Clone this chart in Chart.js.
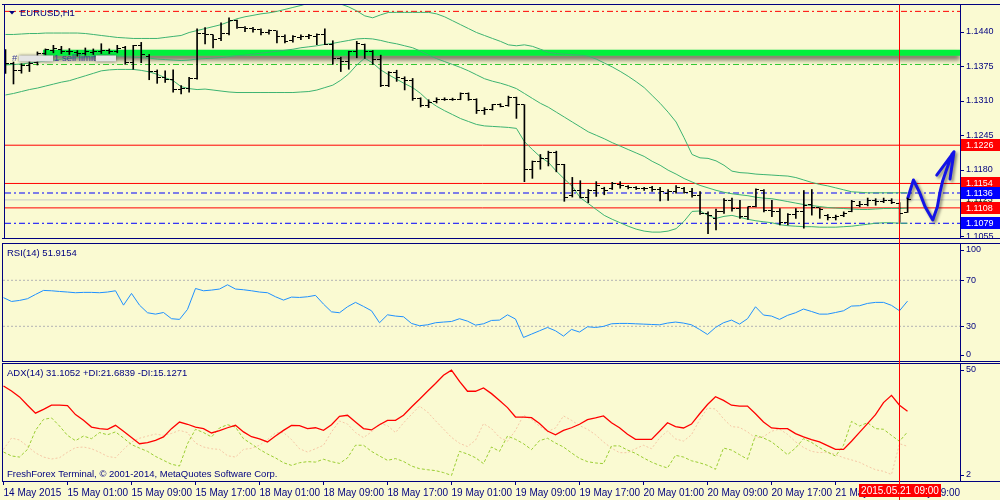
<!DOCTYPE html>
<html>
<head>
<meta charset="utf-8">
<script src="https://cdn.jsdelivr.net/npm/chart.js@4.4.1/dist/chart.umd.min.js"></script>
<style>
html,body{margin:0;padding:0;width:1000px;height:500px;overflow:hidden;background:#FAFAD2;}
canvas{position:absolute;left:0;display:block;}
#pricePanel{top:0;}
#rsiPanel{top:243px;}
#adxPanel{top:363px;}
</style>
</head>
<body>
<canvas id="pricePanel" width="1000" height="243" style="width:1000px;height:243px"></canvas>
<canvas id="rsiPanel" width="1000" height="120" style="width:1000px;height:120px"></canvas>
<canvas id="adxPanel" width="1000" height="137" style="width:1000px;height:137px"></canvas>
<script>
// ---------------- DATA ----------------
const symbolTitle = 'EURUSD,H1';
const rsiTitle = 'RSI(14) 51.9154';
const adxTitle = 'ADX(14) 31.1052 +DI:21.6839 -DI:15.1271';
const copyrightText = 'FreshForex Terminal, \u00A9 2001-2014, MetaQuotes Software Corp.';
const orderLabel = '1 sell limit';

const xTickIndex = [0,8,16,24,32,40,48,56,64,72,80,88,96,104,112];
const xTickLabels = ['14 May 2015','15 May 01:00','15 May 09:00','15 May 17:00','18 May 01:00','18 May 09:00','18 May 17:00','19 May 01:00','19 May 09:00','19 May 17:00','20 May 01:00','20 May 09:00','20 May 17:00','21 May 01:00','21 May 09:00'];
const crosshairIndex = 112;
const crosshairLabel = '2015.05.21 09:00';

const priceTicks = [1.1440,1.1375,1.1310,1.1245,1.1180,1.1055];
const redLevels = [1.1226,1.1154,1.1108];
const blueLevels = [1.1136,1.1079];
const bidPrice = 1.1123;
const stopLevel = 1.1478;
const sellLimitLevel = 1.1378;
const zoneLevel = 1.1400;
const zoneStartIndex = 4.7;

const open = [1.13814,1.13795,1.13659,1.13770,1.13814,1.13980,1.14048,1.14060,1.14030,1.14011,
1.13986,1.14011,1.14030,1.14042,1.14030,1.14091,1.13814,1.14134,1.13937,1.13647,
1.13536,1.13493,1.13301,1.13320,1.13524,1.14357,1.14338,1.14264,1.14369,1.14603,
1.14474,1.14461,1.14431,1.14387,1.14412,1.14307,1.14227,1.14289,1.14307,1.14307,
1.14350,1.14165,1.13894,1.13832,1.14030,1.14165,1.14030,1.13875,1.13382,1.13628,
1.13524,1.13487,1.13135,1.13011,1.13085,1.13116,1.13129,1.13129,1.13227,1.13116,
1.12919,1.12931,1.13030,1.13005,1.13153,1.13024,1.11808,1.11944,1.12006,1.12129,
1.11901,1.11315,1.11407,1.11284,1.11407,1.11438,1.11450,1.11512,1.11487,1.11469,
1.11450,1.11457,1.11426,1.11346,1.11389,1.11438,1.11389,1.11315,1.10975,1.10883,
1.11006,1.11222,1.11068,1.10914,1.11099,1.11407,1.11037,1.11006,1.10809,1.10957,
1.11006,1.11142,1.11080,1.10944,1.10895,1.10932,1.11006,1.11130,1.11142,1.11222,
1.11204,1.11222,1.11160,1.10994];
const high = [1.14060,1.13826,1.13795,1.13844,1.14017,1.14073,1.14141,1.14122,1.14079,1.14042,
1.14091,1.14073,1.14171,1.14073,1.14141,1.14122,1.14141,1.14196,1.13968,1.13678,
1.13659,1.13678,1.13382,1.13536,1.14449,1.14474,1.14338,1.14566,1.14659,1.14616,
1.14492,1.14480,1.14449,1.14431,1.14412,1.14338,1.14326,1.14338,1.14350,1.14357,
1.14449,1.14227,1.13918,1.14030,1.14215,1.14165,1.14042,1.13956,1.13647,1.13672,
1.13548,1.13517,1.13153,1.13116,1.13153,1.13153,1.13147,1.13246,1.13246,1.13135,
1.12968,1.13030,1.13042,1.13184,1.13166,1.13024,1.11963,1.12086,1.12148,1.12148,
1.11901,1.11654,1.11592,1.11426,1.11574,1.11469,1.11561,1.11574,1.11500,1.11481,
1.11469,1.11487,1.11469,1.11426,1.11500,1.11469,1.11450,1.11389,1.11006,1.11056,
1.11253,1.11265,1.11222,1.11099,1.11438,1.11426,1.11222,1.11068,1.10975,1.11068,
1.11407,1.11426,1.11080,1.10957,1.10944,1.11006,1.11222,1.11204,1.11265,1.11253,
1.11265,1.11253,1.11179,1.11265];
const low = [1.13610,1.13413,1.13616,1.13647,1.13770,1.13956,1.13999,1.13986,1.13968,1.13937,
1.13956,1.13968,1.13986,1.13986,1.13999,1.13783,1.13690,1.13814,1.13493,1.13425,
1.13443,1.13258,1.13227,1.13258,1.13505,1.14165,1.14091,1.14227,1.14338,1.14461,
1.14400,1.14387,1.14338,1.14350,1.14184,1.14184,1.14202,1.14245,1.14264,1.14153,
1.14153,1.13783,1.13647,1.13690,1.13906,1.13894,1.13783,1.13363,1.13363,1.13462,
1.13301,1.13104,1.12981,1.12968,1.13055,1.13104,1.13104,1.13116,1.13104,1.12857,
1.12839,1.12919,1.12981,1.12993,1.12765,1.11574,1.11636,1.11808,1.11870,1.11759,
1.11204,1.11284,1.11265,1.11179,1.11296,1.11327,1.11426,1.11450,1.11438,1.11426,
1.11407,1.11389,1.11210,1.11222,1.11358,1.11358,1.11284,1.10957,1.10593,1.10667,
1.10975,1.11019,1.10883,1.10864,1.11099,1.11006,1.10914,1.10759,1.10759,1.10883,
1.10698,1.10944,1.10883,1.10852,1.10852,1.10914,1.11006,1.11099,1.11117,1.11130,
1.11179,1.11160,1.10809,1.10994];
const close = [1.13795,1.13659,1.13770,1.13801,1.13980,1.14060,1.14073,1.14030,1.14017,1.13986,
1.14017,1.14030,1.14042,1.14030,1.14073,1.13814,1.14141,1.13968,1.13647,1.13536,
1.13493,1.13301,1.13320,1.13524,1.14357,1.14338,1.14245,1.14369,1.14616,1.14474,
1.14449,1.14431,1.14387,1.14412,1.14307,1.14215,1.14307,1.14307,1.14320,1.14350,
1.14165,1.13894,1.13832,1.14030,1.14184,1.14030,1.13875,1.13382,1.13628,1.13536,
1.13487,1.13135,1.13011,1.13073,1.13116,1.13129,1.13129,1.13227,1.13116,1.12919,
1.12931,1.13030,1.12993,1.13166,1.13024,1.11808,1.11944,1.12006,1.12129,1.11901,
1.11284,1.11407,1.11284,1.11407,1.11500,1.11407,1.11531,1.11500,1.11469,1.11450,
1.11438,1.11426,1.11389,1.11389,1.11469,1.11376,1.11315,1.10975,1.10944,1.11006,
1.11222,1.11068,1.10914,1.11099,1.11426,1.11037,1.11006,1.10809,1.10957,1.11006,
1.11130,1.11080,1.11056,1.10895,1.10914,1.10975,1.11191,1.11142,1.11222,1.11204,
1.11222,1.11179,1.10975,1.11235];

const bbUpper = [1.14345,1.14345,1.14354,1.14363,1.14363,1.14372,1.14372,1.14372,1.14372,1.14372,
1.14363,1.14345,1.14326,1.14308,1.14289,1.14280,1.14270,1.14270,1.14270,1.14270,
1.14289,1.14308,1.14326,1.14382,1.14419,1.14456,1.14493,1.14530,1.14585,1.14641,
1.14678,1.14705,1.14733,1.14752,1.14780,1.14817,1.14854,1.14891,1.14937,1.14955,
1.14974,1.14955,1.14918,1.14863,1.14789,1.14696,1.14659,1.14715,1.14761,1.14761,
1.14761,1.14761,1.14761,1.14761,1.14733,1.14678,1.14604,1.14530,1.14456,1.14382,
1.14326,1.14270,1.14215,1.14150,1.14132,1.14150,1.14122,1.14067,1.14011,1.13984,
1.13974,1.13965,1.13956,1.13937,1.13882,1.13808,1.13734,1.13650,1.13558,1.13456,
1.13345,1.13197,1.13049,1.12882,1.12697,1.12401,1.12086,1.12022,1.12012,1.11966,
1.11883,1.11772,1.11744,1.11735,1.11716,1.11707,1.11698,1.11688,1.11679,1.11651,
1.11605,1.11559,1.11522,1.11494,1.11457,1.11420,1.11383,1.11374,1.11364,1.11364,
1.11364,1.11364,1.11364,1.11364];
const bbMiddle = [1.13771,1.13780,1.13789,1.13808,1.13826,1.13845,1.13863,1.13882,1.13900,1.13910,
1.13919,1.13928,1.13937,1.13937,1.13937,1.13928,1.13919,1.13910,1.13900,1.13882,
1.13872,1.13863,1.13854,1.13863,1.13882,1.13891,1.13900,1.13910,1.13928,1.13947,
1.13956,1.13974,1.13993,1.14011,1.14030,1.14048,1.14067,1.14095,1.14113,1.14132,
1.14159,1.14178,1.14206,1.14233,1.14261,1.14270,1.14261,1.14233,1.14196,1.14169,
1.14132,1.14095,1.14030,1.13956,1.13891,1.13835,1.13780,1.13724,1.13660,1.13586,
1.13512,1.13465,1.13428,1.13382,1.13326,1.13234,1.13141,1.13049,1.12975,1.12882,
1.12790,1.12697,1.12605,1.12512,1.12447,1.12382,1.12308,1.12244,1.12179,1.12114,
1.12049,1.11957,1.11883,1.11790,1.11716,1.11633,1.11568,1.11503,1.11457,1.11411,
1.11374,1.11346,1.11327,1.11309,1.11281,1.11263,1.11253,1.11226,1.11198,1.11170,
1.11142,1.11124,1.11105,1.11087,1.11077,1.11068,1.11059,1.11050,1.11050,1.11059,
1.11068,1.11068,1.11068,1.11077];
const bbLower = [1.13206,1.13234,1.13271,1.13308,1.13336,1.13373,1.13410,1.13447,1.13475,1.13521,
1.13567,1.13613,1.13660,1.13678,1.13687,1.13687,1.13687,1.13669,1.13641,1.13595,
1.13530,1.13475,1.13363,1.13326,1.13308,1.13317,1.13299,1.13280,1.13262,1.13252,
1.13252,1.13252,1.13252,1.13252,1.13252,1.13252,1.13252,1.13262,1.13271,1.13299,
1.13345,1.13391,1.13484,1.13604,1.13771,1.13900,1.13808,1.13678,1.13586,1.13502,
1.13419,1.13345,1.13234,1.13095,1.12993,1.12910,1.12836,1.12762,1.12706,1.12651,
1.12623,1.12614,1.12605,1.12595,1.12577,1.12327,1.12179,1.12040,1.11938,1.11772,
1.11624,1.11485,1.11272,1.11161,1.11050,1.10939,1.10865,1.10800,1.10735,1.10680,
1.10643,1.10624,1.10624,1.10643,1.10689,1.10828,1.11013,1.11022,1.10939,1.10883,
1.10920,1.10939,1.10902,1.10865,1.10837,1.10818,1.10800,1.10763,1.10744,1.10735,
1.10726,1.10726,1.10717,1.10717,1.10717,1.10726,1.10735,1.10754,1.10772,1.10791,
1.10800,1.10800,1.10791,1.10791];

const arrowX = [113.03,113.73,114.48,115.19,116.15,116.73,117.06,117.4,118.53,118.81,116.65,118.81,118.31];
const arrowY = [1.11266,1.11605,1.11377,1.11100,1.10852,1.11100,1.11377,1.11592,1.12086,1.12136,1.11698,1.12136,1.11623];

const rsi = [54.9,51.6,52.5,54,57.7,61.2,60.9,60.3,59.8,59.2,
59.5,59.5,59.2,59.8,60.9,48.4,58.6,48.4,41.8,40.6,
42,36.6,36,44.7,62.9,60.9,61.5,62.4,66.1,62.4,
61.8,60.9,59.8,59.2,55.7,52.8,55.4,55.1,55.7,56.9,
49.3,42.6,41.8,47,50.8,47.3,43.5,33.1,40,38.9,
38.3,32.5,30.5,31.3,33.1,33.7,34.2,36.6,34.5,31,
32.2,35.1,35.4,40,36.3,20.3,23.2,26.1,29,26.1,
21.5,27.3,25,29.6,29,29.9,32.2,32.5,32.5,32.2,
31.9,31.6,31.3,32.8,33.7,32.8,31.3,27.3,22.9,29,
33.1,35.4,31.9,36.6,47,39.8,38.9,36,39.5,41.8,
45,42.9,40.6,40.6,42,43.5,47.6,47.9,49.9,50.8,
50.8,48.2,43.5,51.9];
const rsiTicks = [100,70,30,0];
const rsiLevels = [70,30];

const adx = [42.7,40.4,37.7,33.9,30.3,32.0,33.9,33.9,33.7,29.6,
27.0,23.9,23.2,22.9,24.7,22.0,19.1,16.3,16.8,17.8,
19.4,23.2,26.2,25.2,23.9,23.2,21.2,22.3,23.6,24.7,
21.7,19.5,18.5,17.1,19.8,22.4,24.7,24.6,23.2,23.6,
22.4,25.0,28.8,29.3,26.2,23.2,22.6,25.0,27.0,27.0,
29.3,33.1,36.6,40.3,43.8,47.6,49.9,44.8,40.3,40.3,
41.8,39.2,36.1,32.8,28.5,28.5,28.2,25.5,22.1,20.4,
22.4,23.6,25.2,27.3,28.1,29.0,25.9,23.6,20.6,18.3,
18.3,18.3,22.0,25.9,24.1,23.5,25.3,29.9,34.2,37.8,
36.1,33.9,33.5,33.5,30.0,26.2,23.5,23.2,23.2,20.9,
19.4,18.2,17.1,15.4,13.7,13.7,17.4,21.5,25.5,29.6,
35.1,38.4,33.9,31.1];
const plusDI = [12.5,10.7,10.2,13.7,22.4,27.4,28.1,24.4,20.1,17.7,
19.8,18.6,21.4,20.4,21.7,18.9,15.9,14.3,12.8,10.5,
8.7,6.9,6.1,16.3,22.9,21.4,19.4,23.5,25.0,23.9,
18.6,16.2,13.7,11.6,9.8,7.6,6.4,7.6,8.1,7.9,
9.2,8.1,7.3,9.8,15.6,15.6,12.8,10.7,8.7,9.5,
8.2,6.1,4.9,4.4,4.0,3.1,1.8,12.8,11.6,9.9,
7.2,14.8,12.8,19.8,18.3,16.3,13.6,17.7,18.8,16.6,
14.8,12.1,9.6,8.1,7.5,7.2,15.3,15.3,13.4,11.9,
9.8,7.9,6.4,5.2,11.0,10.2,8.5,7.6,6.4,4.6,
14.3,13.4,11.3,9.2,20.1,18.9,17.2,14.3,11.3,14.3,
18.6,16.9,14.5,12.4,10.7,15.6,26.5,24.4,25.9,23.2,
22.9,20.1,17.4,21.7];
const minusDI = [13.7,18.9,18.0,15.1,12.1,10.2,9.3,9.9,12.4,14.5,
14.8,14.0,12.4,10.5,9.9,13.7,17.1,18.8,19.8,20.7,
20.1,21.0,22.4,21.4,16.6,14.8,14.0,13.7,10.8,10.2,
13.7,14.2,15.6,18.2,21.2,21.4,18.2,14.0,12.5,14.0,
15.6,21.7,26.7,25.3,21.4,19.1,21.7,25.6,24.6,21.4,
25.8,29.7,33.5,30.8,26.8,23.0,19.2,16.5,15.0,17.9,
25.5,23.2,19.2,17.4,22.4,29.3,27.4,24.3,21.8,23.5,
29.0,27.0,24.6,22.9,20.4,17.1,14.3,12.2,12.2,14.0,
15.6,14.0,18.9,22.1,18.5,17.5,20.4,27.1,32.6,32.2,
27.7,24.1,23.8,21.7,18.9,19.5,22.0,23.0,20.6,17.2,
14.6,12.8,12.2,12.5,11.4,9.9,8.9,7.8,6.0,4.4,
3.7,2.2,16.3,15.1];
const adxTicks = [50,2];

// ---------------- STYLE / SCALES ----------------
const NAVY = '#000080';
const BB = '#3CB371';
const FONT = '"Liberation Sans", Arial, sans-serif';
Chart.defaults.font.family = FONT;
const X_MIN = -0.0625, X_MAX = 119.5625;
const PRICE_MIN = 1.10513, PRICE_MAX = 1.14900;
const RSI_MIN = -0.17, RSI_MAX = 101.57;
const ADX_MIN = -0.75, ADX_MAX = 52.75;

const pts = arr => arr.map((v, i) => ({x: i, y: v}));
const hline = (v, x0) => [{x: x0 === undefined ? X_MIN : x0, y: v}, {x: X_MAX, y: v}];

function tickCanvas(left) {
  const c = document.createElement('canvas');
  c.width = 7; c.height = 1;
  const g = c.getContext('2d');
  g.fillStyle = '#000';
  g.fillRect(left ? 0 : 4, 0, 3, 1);
  return c;
}

function baseOptions(yMin, yMax, padTop, padBottom) {
  return {
    responsive: false, animation: false, devicePixelRatio: 1, events: [],
    layout: {padding: {left: 3, right: 40, top: padTop, bottom: padBottom}},
    plugins: {legend: {display: false}, tooltip: {enabled: false}},
    scales: {
      x: {type: 'linear', min: X_MIN, max: X_MAX, offset: false, display: false},
      y: {type: 'linear', min: yMin, max: yMax, display: false}
    },
    elements: {point: {radius: 0}, line: {tension: 0, borderWidth: 1}}
  };
}

const styleHooks = {
  id: 'styleHooks',
  beforeDatasetDraw(chart, args) {
    const ds = chart.data.datasets[args.index];
    if (ds.shadow || ds.crisp) {
      const c = chart.ctx; c.save();
      if (ds.shadow) { c.shadowColor = ds.shadow.color; c.shadowBlur = ds.shadow.blur; c.shadowOffsetX = ds.shadow.dx; c.shadowOffsetY = ds.shadow.dy; }
      if (ds.crisp) c.imageSmoothingEnabled = false;
    }
  },
  afterDatasetDraw(chart, args) {
    const ds = chart.data.datasets[args.index];
    if (ds.shadow || ds.crisp) chart.ctx.restore();
  }
};

function drawFrame(chart) {
  const ctx = chart.ctx, ca = chart.chartArea, w = chart.width;
  ctx.save(); ctx.strokeStyle = NAVY; ctx.lineWidth = 1; ctx.beginPath();
  ctx.moveTo(2, ca.top - 0.5); ctx.lineTo(w, ca.top - 0.5);
  ctx.moveTo(2, ca.bottom + 0.5); ctx.lineTo(w, ca.bottom + 0.5);
  ctx.moveTo(ca.left - 0.5, ca.top - 0.5); ctx.lineTo(ca.left - 0.5, ca.bottom + 0.5);
  ctx.moveTo(ca.right + 0.5, ca.top - 0.5); ctx.lineTo(ca.right + 0.5, ca.bottom + 0.5);
  ctx.stroke(); ctx.restore();
}
function drawVLine(chart, y0, y1) {
  const ctx = chart.ctx;
  const x = Math.floor(chart.scales.x.getPixelForValue(crosshairIndex)) + 0.5;
  ctx.save(); ctx.strokeStyle = '#FF0000'; ctx.lineWidth = 1;
  ctx.beginPath(); ctx.moveTo(x, y0); ctx.lineTo(x, y1); ctx.stroke(); ctx.restore();
  return x;
}
function axisLabels(chart, values, fmt, clamp) {
  const ctx = chart.ctx, ca = chart.chartArea, ys = chart.scales.y;
  ctx.save();
  ctx.font = '9px ' + FONT; ctx.textBaseline = 'middle'; ctx.fillStyle = NAVY; ctx.strokeStyle = NAVY; ctx.lineWidth = 1;
  values.forEach(v => {
    let y = ys.getPixelForValue(v);
    if (clamp) y = Math.min(Math.max(y, ca.top + 6), ca.bottom - 6);
    const yr = Math.round(y) + 0.5;
    ctx.beginPath(); ctx.moveTo(ca.right + 1, yr); ctx.lineTo(ca.right + 4, yr); ctx.stroke();
    ctx.fillText(fmt(v), ca.right + 6, y);
  });
  ctx.restore();
}
function title(chart, text, y) {
  const ctx = chart.ctx;
  ctx.save(); ctx.font = '9.5px ' + FONT; ctx.fillStyle = NAVY; ctx.textBaseline = 'middle';
  ctx.fillText(text, chart.chartArea.left + 4, y); ctx.restore();
}

// ---------------- PRICE PANEL ----------------
const pricePlugin = {
  id: 'pricePanelDecor',
  afterDraw(chart) {
    const ctx = chart.ctx, ca = chart.chartArea, ys = chart.scales.y;
    drawFrame(chart);
    drawVLine(chart, ca.top - 0.5, chart.height);
    axisLabels(chart, priceTicks, v => v.toFixed(4), false);
    ctx.save();
    ctx.font = '9px ' + FONT; ctx.textBaseline = 'middle';
    // bid label (partly hidden)
    ctx.fillStyle = '#202020';
    ctx.fillText(bidPrice.toFixed(4), ca.right + 6, ys.getPixelForValue(bidPrice));
    const box = (v, bg) => {
      const y = Math.round(ys.getPixelForValue(v));
      ctx.fillStyle = bg; ctx.fillRect(ca.right + 1, y - 6, chart.width - ca.right - 1, 12);
      ctx.fillStyle = '#FFFFFF'; ctx.fillText(v.toFixed(4), ca.right + 6, y + 0.5);
    };
    box(redLevels[0], '#FF0000');
    box(redLevels[1], '#FF0000');
    box(blueLevels[0], '#0000FF');
    box(redLevels[2], '#FF0000');
    box(blueLevels[1], '#0000FF');
    // header
    ctx.fillStyle = NAVY;
    ctx.beginPath(); ctx.moveTo(ca.left + 4, ca.top + 6); ctx.lineTo(ca.left + 10, ca.top + 6); ctx.lineTo(ca.left + 7, ca.top + 9.5); ctx.closePath(); ctx.fill();
    ctx.font = '9.5px ' + FONT;
    ctx.fillText(symbolTitle, ca.left + 15, ca.top + 8);
    // sell limit order label above its line
    const ly = ys.getPixelForValue(sellLimitLevel) - 6;
    ctx.fillStyle = '#3c3c96';
    ctx.fillText('#', ca.left + 7, ly);
    const gbox = (x, w) => {
      ctx.save(); ctx.shadowColor = 'rgba(60,60,60,0.8)'; ctx.shadowBlur = 3;
      ctx.fillStyle = '#e4e4e4'; ctx.fillRect(x, ly - 3, w, 6); ctx.restore();
    };
    gbox(ca.left + 14, 34);
    ctx.fillStyle = '#3c3c96';
    ctx.fillText(orderLabel, ca.left + 49, ly);
    gbox(ca.left + 91, 20);
    ctx.restore();
  }
};

const tickOpen = tickCanvas(true), tickClose = tickCanvas(false);
const priceDatasets = [
  {type: 'bar', data: high.map((h, i) => ({x: i, y: [low[i], h]})), backgroundColor: '#000000', barThickness: 1, borderWidth: 0, order: 0},
  {type: 'line', data: pts(open), showLine: false, pointStyle: tickOpen, pointRadius: 3, order: 0, crisp: true},
  {type: 'line', data: pts(close), showLine: false, pointStyle: tickClose, pointRadius: 3, order: 0, crisp: true},
  {type: 'line', data: arrowX.map((x, k) => ({x: x, y: arrowY[k]})), borderColor: '#1414e6', borderWidth: 3, borderJoinStyle: 'round', borderCapStyle: 'round', pointRadius: 0, order: 1, shadow: {color: 'rgba(0,0,0,0.45)', blur: 3, dx: 2, dy: 2}},
  {type: 'line', data: pts(bbUpper), borderColor: BB, borderWidth: 1, pointRadius: 0, order: 5},
  {type: 'line', data: pts(bbMiddle), borderColor: BB, borderWidth: 1, pointRadius: 0, order: 5},
  {type: 'line', data: pts(bbLower), borderColor: BB, borderWidth: 1, pointRadius: 0, order: 5},
  {type: 'line', data: hline(zoneLevel, zoneStartIndex), borderColor: '#00F03C', borderWidth: 6, pointRadius: 0, order: 7, shadow: {color: 'rgba(0,0,0,0.6)', blur: 5, dx: 0, dy: 4}},
  {type: 'line', data: hline(stopLevel), borderColor: '#FF0000', borderWidth: 1, borderDash: [6, 3, 2, 3], pointRadius: 0, order: 10},
  {type: 'line', data: hline(sellLimitLevel), borderColor: '#32CD32', borderWidth: 1, borderDash: [6, 3, 2, 3], pointRadius: 0, order: 10},
  {type: 'line', data: hline(bidPrice), borderColor: '#C8C8C8', borderWidth: 1, pointRadius: 0, order: 11},
  ...redLevels.map(v => ({type: 'line', data: hline(v), borderColor: '#FF0000', borderWidth: 1, pointRadius: 0, order: 10})),
  ...blueLevels.map(v => ({type: 'line', data: hline(v), borderColor: '#0000FF', borderWidth: 1, borderDash: [6, 3, 2, 3], pointRadius: 0, order: 10}))
];
new Chart(document.getElementById('pricePanel'), {
  type: 'line',
  data: {datasets: priceDatasets},
  options: baseOptions(PRICE_MIN, PRICE_MAX, 3, 3),
  plugins: [styleHooks, pricePlugin]
});

// ---------------- RSI PANEL ----------------
const rsiPlugin = {
  id: 'rsiDecor',
  afterDraw(chart) {
    drawFrame(chart);
    drawVLine(chart, 0, chart.height);
    axisLabels(chart, rsiTicks, v => String(v), true);
    title(chart, rsiTitle, chart.chartArea.top + 9);
  }
};
new Chart(document.getElementById('rsiPanel'), {
  type: 'line',
  data: {datasets: [
    {data: pts(rsi), borderColor: '#1E90FF', borderWidth: 1, pointRadius: 0, order: 0},
    ...rsiLevels.map(v => ({data: hline(v), borderColor: '#B4B4B4', borderWidth: 1, borderDash: [2, 2], pointRadius: 0, order: 5}))
  ]},
  options: baseOptions(RSI_MIN, RSI_MAX, 1, 2),
  plugins: [rsiPlugin]
});

// ---------------- ADX PANEL ----------------
const adxPlugin = {
  id: 'adxDecor',
  afterDraw(chart) {
    const ctx = chart.ctx, ca = chart.chartArea;
    drawFrame(chart);
    const x = drawVLine(chart, 0, chart.height);
    axisLabels(chart, adxTicks, v => String(v), true);
    title(chart, adxTitle, ca.top + 9.5);
    title(chart, copyrightText, ca.bottom - 6.5);
    ctx.save();
    ctx.fillStyle = '#FF0000';
    ctx.fillRect(Math.round(x - 40.5), ca.bottom + 3, 82, 13);
    ctx.fillStyle = '#FFFFFF'; ctx.font = '10px ' + FONT; ctx.textAlign = 'center'; ctx.textBaseline = 'middle';
    ctx.fillText(crosshairLabel, x + 0.5, ca.bottom + 10);
    ctx.restore();
  }
};
const adxOptions = baseOptions(ADX_MIN, ADX_MAX, 1, 0);
adxOptions.scales.x = {
  type: 'linear', min: X_MIN, max: X_MAX, offset: false, display: true, position: 'bottom',
  afterBuildTicks: s => { s.ticks = xTickIndex.map(v => ({value: v})); },
  afterFit: s => { s.height = 19; },
  ticks: {autoSkip: false, maxRotation: 0, minRotation: 0, align: 'start', padding: 2, color: NAVY, font: {size: 10},
    callback: v => { const k = xTickIndex.indexOf(v); return k >= 0 ? xTickLabels[k] : ''; }},
  grid: {display: true, drawOnChartArea: false, drawTicks: true, tickLength: 4, color: NAVY, lineWidth: 1},
  border: {display: false}
};
new Chart(document.getElementById('adxPanel'), {
  type: 'line',
  data: {datasets: [
    {data: pts(adx), borderColor: '#FF0000', borderWidth: 1.3, pointRadius: 0, order: 0},
    {data: pts(plusDI), borderColor: '#9ACD32', borderWidth: 1, borderDash: [3, 2], pointRadius: 0, order: 1},
    {data: pts(minusDI), borderColor: '#F5C6A5', borderWidth: 1, borderDash: [2, 2], pointRadius: 0, order: 2}
  ]},
  options: adxOptions,
  plugins: [adxPlugin]
});
</script>
</body>
</html>
